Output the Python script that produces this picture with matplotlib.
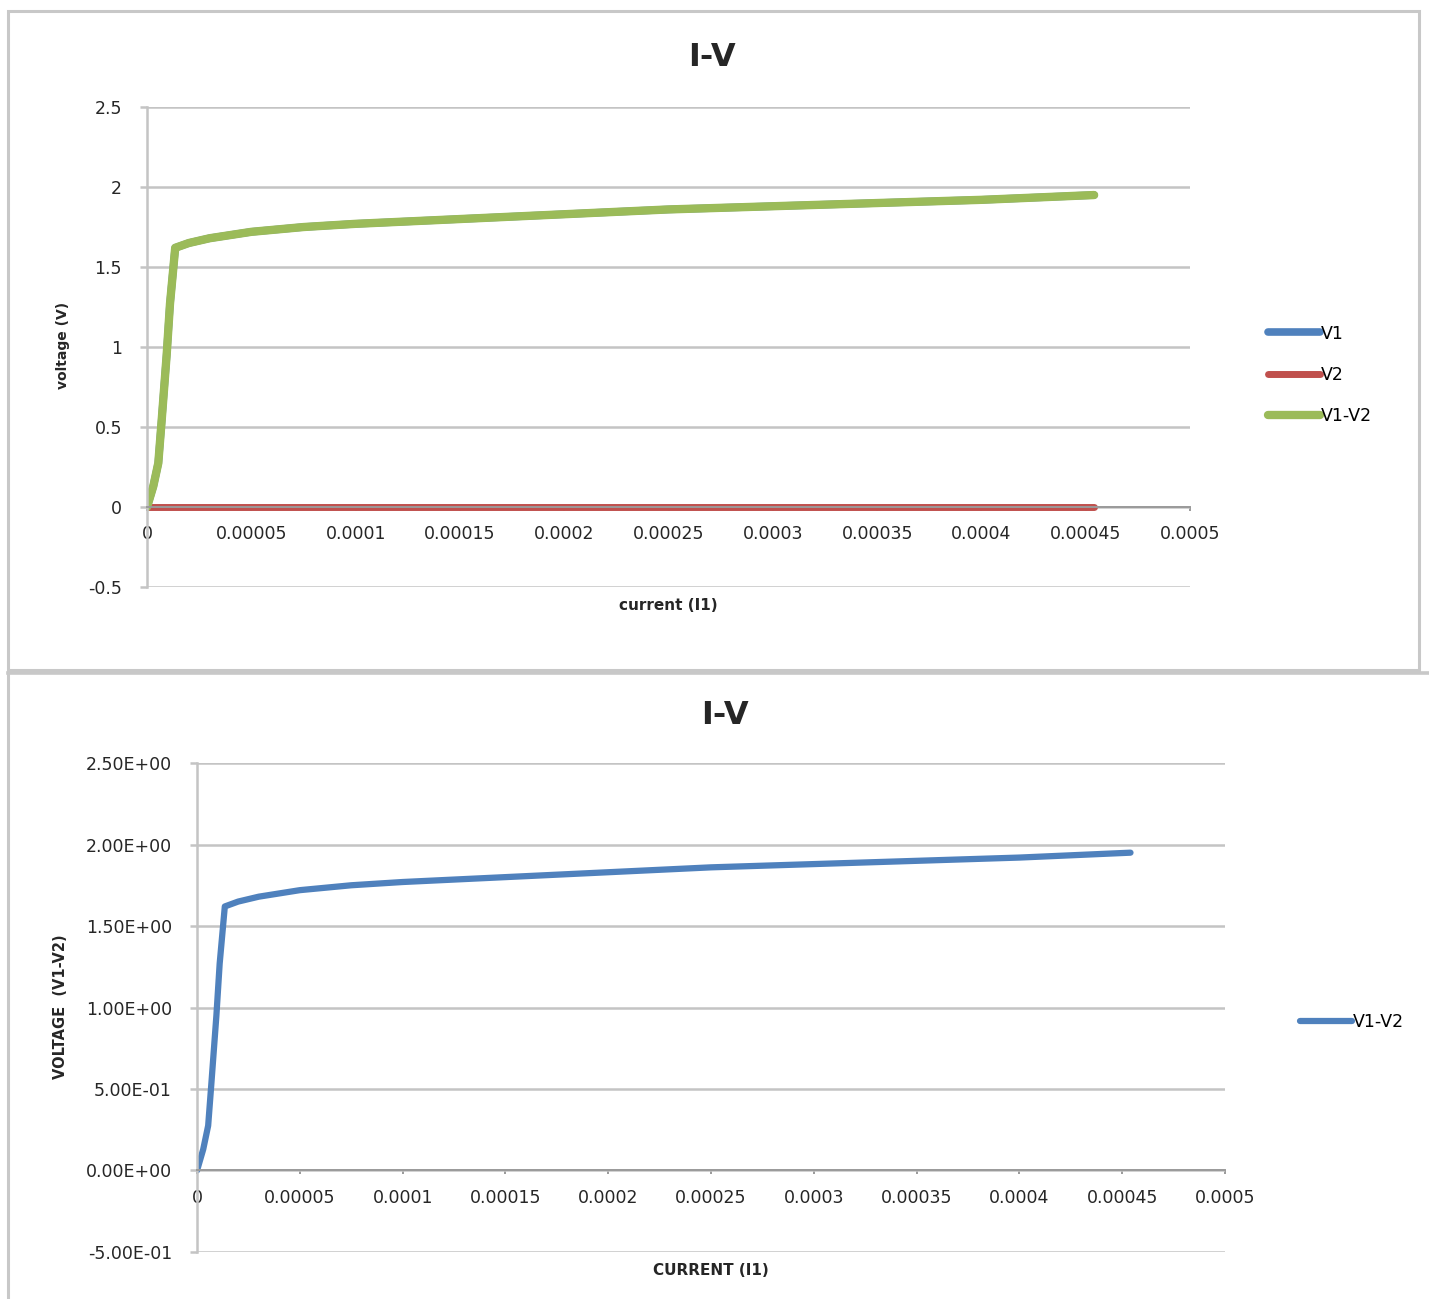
import matplotlib
matplotlib.use('Agg')
import matplotlib.pyplot as plt
from matplotlib.lines import Line2D
from matplotlib.patches import Rectangle

plt.rcParams['font.family'] = ['DejaVu Sans']

# data (current in A, voltage in V)
current = [0, 3e-6, 5.4e-6, 7e-6, 9.4e-6, 1.1e-5, 1.35e-5, 2e-5, 3e-5, 4e-5, 5e-5,
           7.5e-5, 1e-4, 1.5e-4, 2e-4, 2.5e-4, 3e-4, 3.5e-4, 4e-4, 4.54e-4]
v1 = [0, 0.13, 0.275, 0.54, 0.95, 1.27, 1.62, 1.65, 1.68, 1.70, 1.72,
      1.75, 1.77, 1.80, 1.83, 1.86, 1.88, 1.90, 1.92, 1.95]
v2 = [0] * len(current)
v_diff = [a - b for a, b in zip(v1, v2)]

x_ticks = [0, 0.00005, 0.0001, 0.00015, 0.0002, 0.00025, 0.0003, 0.00035, 0.0004, 0.00045, 0.0005]
x_ticklabels = ['0', '0.00005', '0.0001', '0.00015', '0.0002', '0.00025', '0.0003',
                '0.00035', '0.0004', '0.00045', '0.0005']
y_ticks = [-0.5, 0, 0.5, 1, 1.5, 2, 2.5]
y_ticklabels_top = ['-0.5', '0', '0.5', '1', '1.5', '2', '2.5']
y_ticklabels_bottom = ['-5.00E-01', '0.00E+00', '5.00E-01', '1.00E+00', '1.50E+00', '2.00E+00', '2.50E+00']

BLUE = '#4F81BD'
RED = '#C0504D'
GREEN = '#9BBB59'
GRID = '#C4C4C4'
TXT = '#262626'

fig = plt.figure(figsize=(14.29, 12.99), dpi=100)


def style_axes(ax, yticklabels):
    ax.set_xlim(0, 0.0005)
    ax.set_ylim(-0.5, 2.5)
    ax.set_xticks(x_ticks)
    ax.set_xticklabels(x_ticklabels)
    ax.set_yticks(y_ticks)
    ax.set_yticklabels(yticklabels)
    ax.grid(axis='y', color=GRID, linewidth=1.8)
    ax.set_axisbelow(True)
    for s in ['top', 'right']:
        ax.spines[s].set_visible(False)
    ax.spines['left'].set_color(GRID)
    ax.spines['left'].set_linewidth(1.8)
    ax.spines['bottom'].set_position(('data', 0))
    ax.spines['bottom'].set_color('#9a9a9a')
    ax.spines['bottom'].set_linewidth(1.4)
    ax.tick_params(axis='y', direction='out', length=5, width=1.8, color=GRID,
                   pad=13, labelsize=12.5, labelcolor=TXT)
    ax.tick_params(axis='x', direction='out', length=3, width=1.4, color='#9a9a9a',
                   pad=10, labelsize=12.5, labelcolor=TXT)


# ---- top chart ----
ax1 = fig.add_axes([0.1029, 0.5481, 0.7299, 0.3695])
style_axes(ax1, y_ticklabels_top)
ax1.plot(current, v1, color=BLUE, linewidth=5.5, solid_capstyle='round', label='V1')
ax1.plot(current, v2, color=RED, linewidth=5.0, solid_capstyle='round', label='V2')
ax1.plot(current, v_diff, color=GREEN, linewidth=6.0, solid_capstyle='round',
         solid_joinstyle='round', label='V1-V2')
ax1.text(0.4995, -0.0375, 'current (I1)', transform=ax1.transAxes, ha='center', va='center',
         fontsize=11, fontweight='bold', color=TXT)
ax1.text(-0.0805, 0.504, 'voltage (V)', transform=ax1.transAxes, ha='center', va='center',
         rotation=90, fontsize=10, fontweight='bold', color=TXT)
ax1.legend(loc='center left', bbox_to_anchor=(1.0748, 0.4417), frameon=False, fontsize=12.5,
           handlelength=3.0, handletextpad=0.05, labelspacing=1.35, borderpad=0, borderaxespad=0)
fig.text(712 / 1429, 1 - 57 / 1299, 'I-V', ha='center', va='center', fontsize=23,
         fontweight='bold', color=TXT)

# ---- bottom chart ----
ax2 = fig.add_axes([0.1379, 0.0362, 0.7194, 0.3764])
style_axes(ax2, y_ticklabels_bottom)
ax2.plot(current, v_diff, color=BLUE, linewidth=4.5, solid_capstyle='round',
         solid_joinstyle='round', label='V1-V2')
ax2.text(0.5, -0.037, 'CURRENT (I1)', transform=ax2.transAxes, ha='center', va='center',
         fontsize=11, fontweight='bold', color=TXT)
ax2.text(-0.133, 0.501, 'VOLTAGE  (V1-V2)', transform=ax2.transAxes, ha='center', va='center',
         rotation=90, fontsize=10.5, fontweight='bold', color=TXT)
ax2.legend(loc='center left', bbox_to_anchor=(1.073, 0.470), frameon=False, fontsize=12.5,
           handlelength=3.0, handletextpad=0.05, borderpad=0, borderaxespad=0)
fig.text(725 / 1429, 1 - 716 / 1299, 'I-V', ha='center', va='center', fontsize=23,
         fontweight='bold', color=TXT)

# chart frames
FRAME = '#C8C8C8'
fig.patches.append(Rectangle((8 / 1429, 1 - 670 / 1299), (1419 - 8) / 1429, (670 - 11) / 1299,
                             transform=fig.transFigure, fill=False, edgecolor=FRAME, linewidth=2.2))
fig.lines.append(Line2D([8 / 1429, 1.0], [1 - 673 / 1299, 1 - 673 / 1299],
                        transform=fig.transFigure, color=FRAME, linewidth=2.6))
fig.lines.append(Line2D([8 / 1429, 8 / 1429], [1 - 673 / 1299, 0],
                        transform=fig.transFigure, color=FRAME, linewidth=2.2))

fig.savefig('out.png', dpi=100)
